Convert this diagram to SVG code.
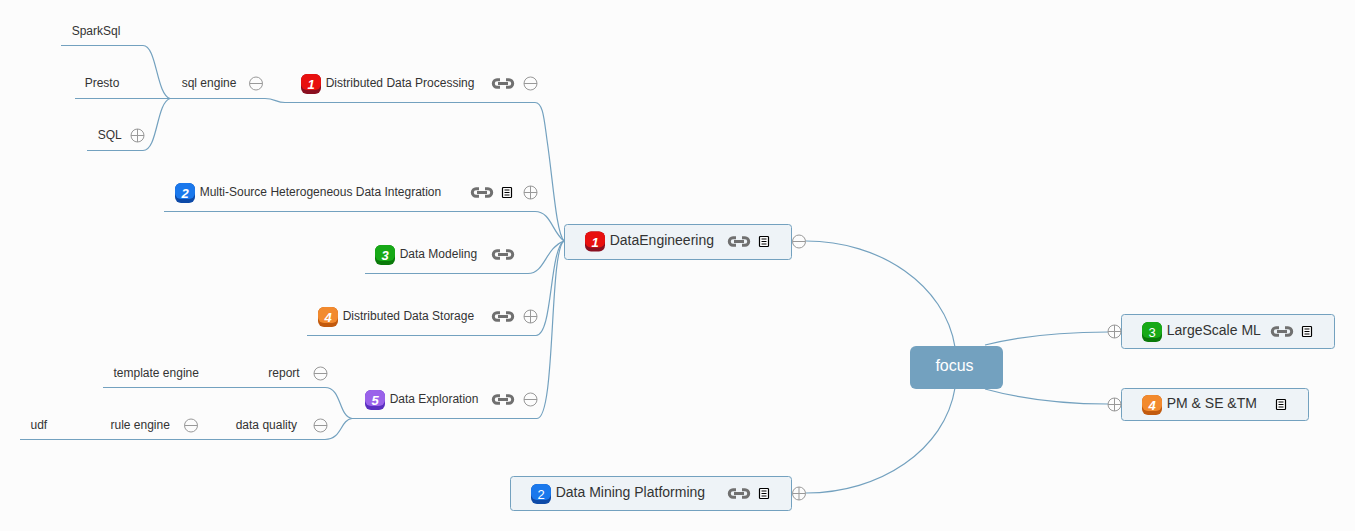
<svg xmlns="http://www.w3.org/2000/svg" xmlns:xlink="http://www.w3.org/1999/xlink" width="1355" height="531" viewBox="0 0 1355 531">
<style>
text{font-family:"Liberation Sans",Arial,sans-serif;fill:#333}
.s{font-size:12px}
.m{font-size:14px}
.box{fill:#eef3f7;stroke:#73a1bf;stroke-width:1}
.c{fill:none;stroke:#73a1bf;stroke-width:1.2}
.pn{font-family:"Liberation Sans",Arial,sans-serif;font-size:13px;font-weight:bold;font-style:italic;fill:#fff;text-anchor:middle}
</style>
<defs>
<g id="link"><path d="M-3 -3.700H-6A3.700 3.700 0 0 0 -6 3.700H-3M3 -3.700H6A3.700 3.700 0 0 1 6 3.700H3M-5 0H5" fill="none" stroke="#707070" stroke-width="3"/></g>
<g id="note"><rect x="-4.500" y="-5" width="9" height="10" rx="0.8" fill="#fff" stroke="#000" stroke-width="1.200"/><path d="M-2.500 -2.500H2.500M-2.500 0H2.500M-2.500 2.500H2.500" stroke="#000" stroke-width="1"/></g>
<g id="minus"><circle r="6.500" fill="#fcfcfc" stroke="#999" stroke-width="1"/><path d="M-6.500 0H6.500" stroke="#999"/></g>
<g id="plus"><circle r="6.500" fill="#fcfcfc" stroke="#999" stroke-width="1"/><path d="M-6.500 0H6.500M0 -6.500V6.500" stroke="#999"/></g>
<g id="p1"><rect x="-10" y="-10" width="20" height="20" rx="6" fill="#8a0f20"/><rect x="-10" y="-10" width="20" height="16" rx="6" fill="#e8100f"/></g>
<g id="p2"><rect x="-10" y="-10" width="20" height="20" rx="6" fill="#0d4aa8"/><rect x="-10" y="-10" width="20" height="16" rx="6" fill="#1a78ec"/></g>
<g id="p3"><rect x="-10" y="-10" width="20" height="20" rx="6" fill="#0a7a0a"/><rect x="-10" y="-10" width="20" height="16" rx="6" fill="#17a917"/></g>
<g id="p4"><rect x="-10" y="-10" width="20" height="20" rx="6" fill="#c25a0e"/><rect x="-10" y="-10" width="20" height="16" rx="6" fill="#f28a2e"/></g>
<g id="p5"><rect x="-10" y="-10" width="20" height="20" rx="6" fill="#5a2fc0"/><rect x="-10" y="-10" width="20" height="16" rx="6" fill="#9a62ea"/></g>
</defs>
<rect width="1355" height="531" fill="#fcfcfc"/>
<g id="connectors">
<path class="c" d="M955 347C945 285 880 241 806 241"/>
<path class="c" d="M955 388C945 450 880 493 806 493"/>
<path class="c" d="M985 345C1025 335 1065 332 1108 332"/>
<path class="c" d="M985 389C1025 400 1065 404 1108 404"/>
<path class="c" d="M564 241C556 232 553 180 547 140C544 118 543 102.500 535 102.500H285C276 102.500 275 98.500 265 98.500H170"/>
<path class="c" d="M564 241C552 232 551 211.500 535 211.500H164"/>
<path class="c" d="M564 241C545 248 545 273.500 528 273.500H365"/>
<path class="c" d="M564 241C549 250 553 335.500 536 335.500H307"/>
<path class="c" d="M564 241C549 250 556 418.500 537 418.500H352"/>
<path class="c" d="M170 98.500C156 94 157 45.500 143 45.500H61"/>
<path class="c" d="M170 98.500H75"/>
<path class="c" d="M170 98.500C156 103 158 150.500 143 150.500H87"/>
<path class="c" d="M352 418.500C338 416 342 387.500 325 387.500H103"/>
<path class="c" d="M352 418.500C340 420 342 439.500 325 439.500H20"/>
</g>
<g id="focus"><rect x="910" y="346" width="93" height="43" rx="6" fill="#73a1bf"/><text x="954.500" y="371" font-size="16" text-anchor="middle" style="fill:#fff">focus</text></g>
<g id="data-engineering"><rect class="box" x="564.500" y="224.500" width="227" height="35" rx="3"/><use xlink:href="#p1" href="#p1" x="595" y="241.500"/><text class="pn" x="595" y="246.500">1</text><text class="m" x="609.700" y="245">DataEngineering</text><use xlink:href="#link" href="#link" x="739" y="241.500"/><use xlink:href="#note" href="#note" x="764" y="241.500"/><use xlink:href="#minus" href="#minus" x="799" y="241.500"/></g>
<g id="large-scale-ml"><rect class="box" x="1121.500" y="314.500" width="213" height="34" rx="3"/><use xlink:href="#p3" href="#p3" x="1152" y="332"/><text class="pn" x="1152" y="337" style="font-style:normal;font-weight:normal">3</text><text class="m" x="1166.700" y="335">LargeScale ML</text><use xlink:href="#link" href="#link" x="1282" y="331.500"/><use xlink:href="#note" href="#note" x="1307" y="331.500"/><use xlink:href="#plus" href="#plus" x="1114.500" y="331.500"/></g>
<g id="pm-se-tm"><rect class="box" x="1121.500" y="388.500" width="187" height="32" rx="3"/><use xlink:href="#p4" href="#p4" x="1152" y="405"/><text class="pn" x="1152" y="410">4</text><text class="m" x="1166.700" y="408">PM &amp; SE &amp;TM</text><use xlink:href="#note" href="#note" x="1281" y="404.500"/><use xlink:href="#plus" href="#plus" x="1114.500" y="404.500"/></g>
<g id="data-mining"><rect class="box" x="510.500" y="476.500" width="281" height="34" rx="3"/><use xlink:href="#p2" href="#p2" x="541" y="494"/><text class="pn" x="541" y="499" style="font-style:normal;font-weight:normal">2</text><text class="m" x="555.700" y="497">Data Mining Platforming</text><use xlink:href="#link" href="#link" x="739" y="493.500"/><use xlink:href="#note" href="#note" x="764" y="493.500"/><use xlink:href="#plus" href="#plus" x="799" y="493.500"/></g>
<g id="distributed-data-processing"><use xlink:href="#p1" href="#p1" x="311" y="84"/><text class="pn" x="311" y="89">1</text><text class="s" x="325.700" y="87">Distributed Data Processing</text><use xlink:href="#link" href="#link" x="503" y="83.500"/><use xlink:href="#minus" href="#minus" x="530.500" y="83.500"/></g>
<g id="sql-engine"><text class="s" x="181.700" y="87">sql engine</text><use xlink:href="#minus" href="#minus" x="256" y="83.500"/></g>
<g id="sparksql"><text class="s" x="71.700" y="35">SparkSql</text></g>
<g id="presto"><text class="s" x="84.700" y="87">Presto</text></g>
<g id="sql"><text class="s" x="97.700" y="139">SQL</text><use xlink:href="#plus" href="#plus" x="137.500" y="135.500"/></g>
<g id="multi-source"><use xlink:href="#p2" href="#p2" x="185" y="193"/><text class="pn" x="185" y="198">2</text><text class="s" x="199.700" y="196">Multi-Source Heterogeneous Data Integration</text><use xlink:href="#link" href="#link" x="482" y="192.500"/><use xlink:href="#note" href="#note" x="507" y="192.500"/><use xlink:href="#plus" href="#plus" x="530.500" y="192.500"/></g>
<g id="data-modeling"><use xlink:href="#p3" href="#p3" x="385" y="255"/><text class="pn" x="385" y="260">3</text><text class="s" x="399.700" y="258">Data Modeling</text><use xlink:href="#link" href="#link" x="503" y="254.500"/></g>
<g id="distributed-data-storage"><use xlink:href="#p4" href="#p4" x="328" y="317"/><text class="pn" x="328" y="322">4</text><text class="s" x="342.700" y="320">Distributed Data Storage</text><use xlink:href="#link" href="#link" x="503" y="316.500"/><use xlink:href="#plus" href="#plus" x="530.500" y="316.500"/></g>
<g id="data-exploration"><use xlink:href="#p5" href="#p5" x="375" y="400"/><text class="pn" x="375" y="405">5</text><text class="s" x="389.700" y="403">Data Exploration</text><use xlink:href="#link" href="#link" x="503" y="399.500"/><use xlink:href="#minus" href="#minus" x="530.500" y="399.500"/></g>
<g id="report"><text class="s" x="268.300" y="377">report</text><use xlink:href="#minus" href="#minus" x="320.500" y="373.500"/></g>
<g id="template-engine"><text class="s" x="113.500" y="377">template engine</text></g>
<g id="data-quality"><text class="s" x="235.700" y="429">data quality</text><use xlink:href="#minus" href="#minus" x="320.500" y="425.500"/></g>
<g id="rule-engine"><text class="s" x="110.500" y="429">rule engine</text><use xlink:href="#minus" href="#minus" x="191" y="425.500"/></g>
<g id="udf"><text class="s" x="30.500" y="429">udf</text></g>
</svg>
